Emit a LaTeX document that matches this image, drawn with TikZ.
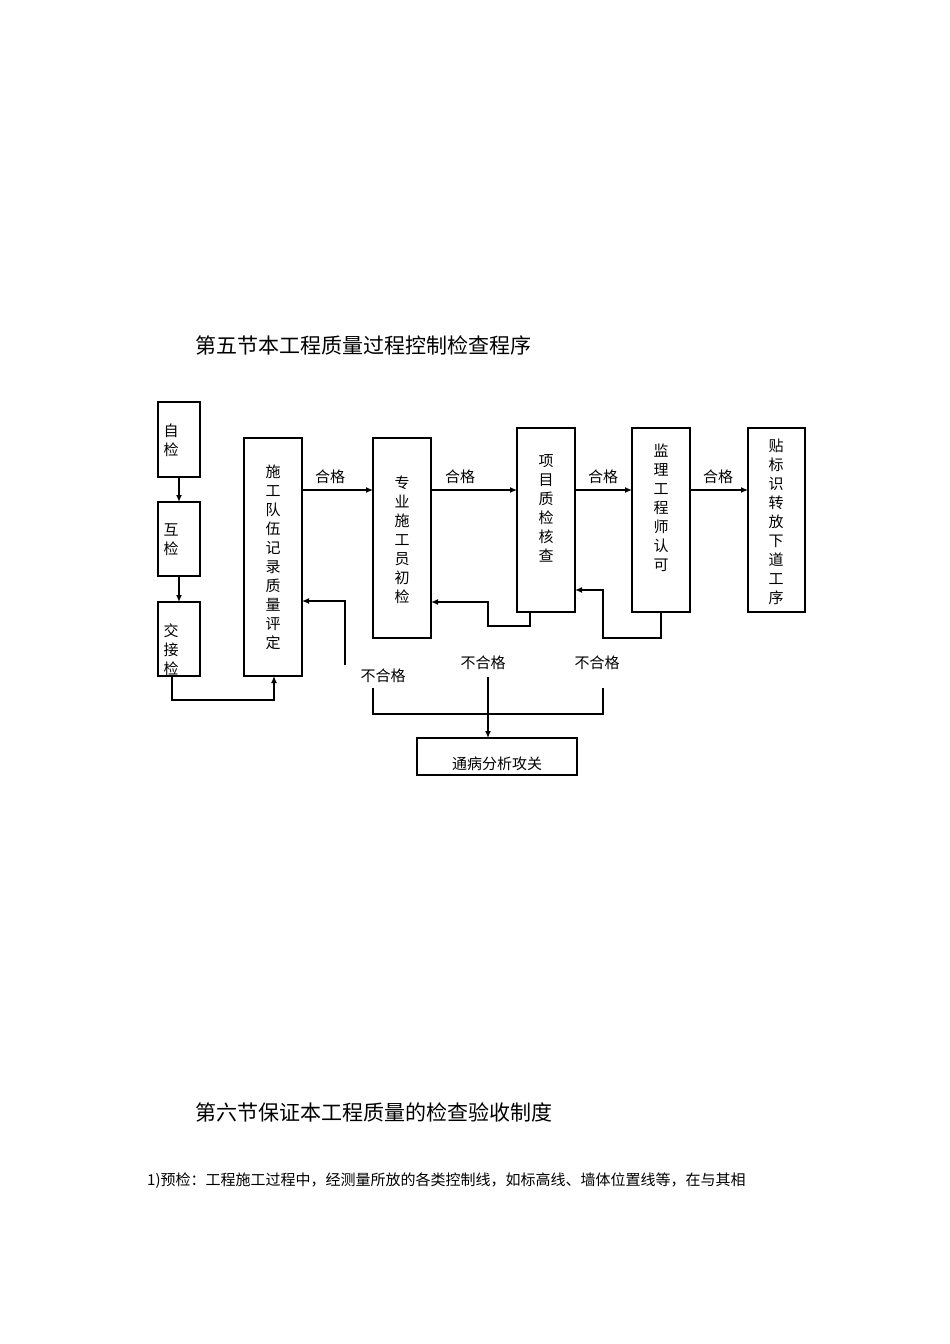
\documentclass[tikz,border=0pt]{standalone}
\usepackage{fontspec}
\newfontfamily\cjk{Noto Sans CJK SC}
\usetikzlibrary{arrows.meta}
\begin{document}
\begin{tikzpicture}[x=1pt,y=-1pt,
  bx/.style={draw,line width=1.2pt,inner sep=0pt},
  vt/.style={font=\cjk\fontsize{15}{19}\selectfont,align=center},
  lb/.style={font=\cjk\fontsize{15}{18}\selectfont,inner sep=0pt},
  ar/.style={line width=1.3pt,-{Latex[length=7pt,width=6pt]}},
  ln/.style={line width=1.2pt}]
\useasboundingbox (0,0) rectangle (950,1344);
\node[font=\cjk\fontsize{21}{24}\selectfont,anchor=west,inner sep=0pt] (t1) at (195,345) {第五节本工程质量过程控制检查程序};
\node[font=\cjk\fontsize{21}{24}\selectfont,anchor=west,inner sep=0pt] (t2) at (195,1112) {第六节保证本工程质量的检查验收制度};
\node[font=\cjk\fontsize{15}{18}\selectfont,anchor=west,inner sep=0pt] (t3) at (147,1181) {1)预检：工程施工过程中，经测量所放的各类控制线，如标高线、墙体位置线等，在与其相};
% boxes
\draw[bx] (158,402) rectangle (200,477); \node[vt,anchor=north west] (a) at (160,420) {自\\检};
\draw[bx] (158,502) rectangle (200,576); \node[vt,anchor=north west] (b) at (160,520) {互\\检};
\draw[bx] (158,602) rectangle (200,676); \node[vt,anchor=north west] (c) at (160,620) {交\\接\\检};
\draw[bx] (244,438) rectangle (302,676); \node[vt] (d) at (273,557) {施\\工\\队\\伍\\记\\录\\质\\量\\评\\定};
\draw[bx] (373,438) rectangle (431,638); \node[vt] (e) at (402,540) {专\\业\\施\\工\\员\\初\\检};
\draw[bx] (517,428) rectangle (575,612); \node[vt] (f) at (546,508) {项\\目\\质\\检\\核\\查};
\draw[bx] (632,428) rectangle (690,612); \node[vt] (g) at (661,508) {监\\理\\工\\程\\师\\认\\可};
\draw[bx] (748,428) rectangle (805,612); \node[vt] (h) at (776,522) {贴\\标\\识\\转\\放\\下\\道\\工\\序};
\draw[ln] (417,738) rectangle (577,775); \node[lb] (k) at (497,764) {通病分析攻关};
% vertical chain
\draw[ar] (179,477) -- (179,502);
\draw[ar] (179,576) -- (179,602);
\draw[ar] (172,676) -- (172,700) -- (274,700) -- (274,676);
% pass arrows
\draw[ar] (302,490) -- (373,490); \node[lb] at (330,477) {合格};
\draw[ar] (431,490) -- (517,490); \node[lb] at (460,477) {合格};
\draw[ar] (575,490) -- (632,490); \node[lb] at (603,477) {合格};
\draw[ar] (690,490) -- (748,490); \node[lb] at (718,477) {合格};
% feedback
\draw[ar] (530,612) -- (530,626) -- (488,626) -- (488,602) -- (431,602);
\draw[ar] (661,612) -- (661,638) -- (603,638) -- (603,590) -- (575,590);
\draw[ar] (345,665) -- (345,601) -- (302,601);
\node[lb] at (383,676) {不合格};
\node[lb] at (483,663) {不合格};
\node[lb] at (597,663) {不合格};
\draw[ln] (373,688) -- (373,714) -- (603,714) -- (603,688);
\draw[ar] (488,677) -- (488,738);
\end{tikzpicture}
\end{document}
